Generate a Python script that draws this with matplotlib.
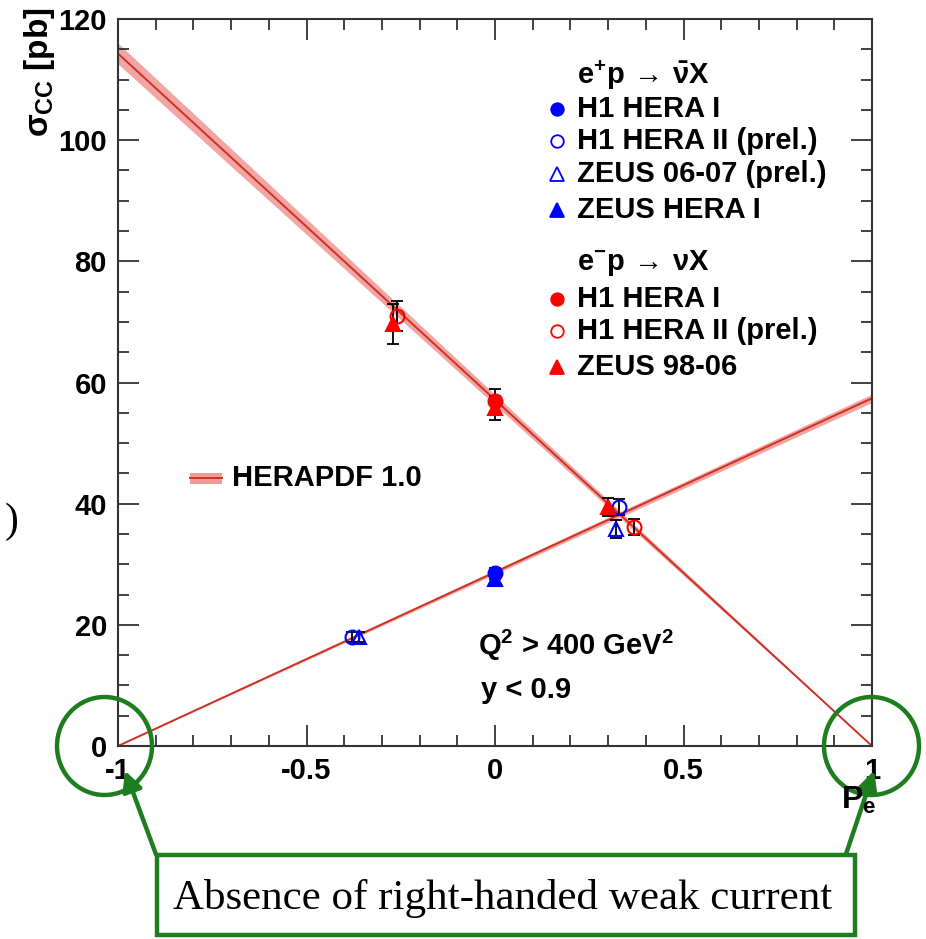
import matplotlib
matplotlib.use("Agg")
import matplotlib.pyplot as plt
import numpy as np
from matplotlib.patches import Ellipse, Rectangle
from matplotlib.ticker import MultipleLocator

# ---------------- data ----------------
# HERAPDF 1.0 predictions (linear in Pe)
pdf_pe = [-1.0, 1.0]
pdf_em = [114.3, 0.0]      # e-p -> nu X
pdf_ep = [0.0, 57.4]       # e+p -> nubar X
pdf_rel_unc_em = 0.015
pdf_rel_unc_ep = 0.012

# e+p (blue)
h1_I_ep_pe, h1_I_ep_sig, h1_I_ep_err = [0.0], [28.5], [0.9]
h1_II_ep_pe, h1_II_ep_sig, h1_II_ep_err = [-0.38, 0.33], [18.0, 39.4], [0.8, 1.3]
zeus0607_ep_pe, zeus0607_ep_sig, zeus0607_ep_err = [-0.36, 0.32], [18.0, 35.8], [0.8, 1.5]
zeusI_ep_pe, zeusI_ep_sig, zeusI_ep_err = [0.0], [27.5], [0.9]

# e-p (red)
h1_I_em_pe, h1_I_em_sig, h1_I_em_err = [0.0], [57.0], [2.0]
h1_II_em_pe, h1_II_em_sig, h1_II_em_err = [-0.26, 0.37], [71.0, 36.1], [2.5, 1.3]
zeus9806_em_pe, zeus9806_em_sig, zeus9806_em_err = [-0.27, 0.0, 0.30], [69.7, 55.8, 39.4], [3.3, 2.0, 1.5]

xticks = [-1, -0.5, 0, 0.5, 1]
xticklabels = ["-1", "-0.5", "0", "0.5", "1"]
yticks = [0, 20, 40, 60, 80, 100, 120]

# ---------------- style ----------------
plt.rcParams['font.family'] = ['Liberation Sans', 'DejaVu Sans']
plt.rcParams['font.weight'] = 'bold'
plt.rcParams['mathtext.fontset'] = 'custom'
plt.rcParams['mathtext.rm'] = 'Liberation Sans:bold'
plt.rcParams['mathtext.it'] = 'Liberation Sans:bold'
plt.rcParams['mathtext.bf'] = 'Liberation Sans:bold'

BLUE = '#0000ff'
RED = '#ff0000'
LINE = '#cc3322'
BAND = '#f29a9a'
GREEN = '#1e7d1e'

fig = plt.figure(figsize=(9.26, 9.39), dpi=100)
ax = fig.add_axes([118/926, 1-746/939, 754/926, 727/939])

# bands + lines
pe = np.array(pdf_pe)
em = np.array(pdf_em)
ep = np.array(pdf_ep)
ax.fill_between(pe, em*(1-pdf_rel_unc_em), em*(1+pdf_rel_unc_em), color=BAND, lw=0, alpha=0.9, zorder=1)
ax.fill_between(pe, ep*(1-pdf_rel_unc_ep), ep*(1+pdf_rel_unc_ep), color=BAND, lw=0, alpha=0.9, zorder=1)
ax.plot(pe, em, color=LINE, lw=1.4, zorder=2)
ax.plot(pe, ep, color=LINE, lw=1.4, zorder=2)

def pts(x, y, e, marker, color, filled):
    ax.errorbar(x, y, yerr=e, fmt='none', ecolor='black', elinewidth=1.3,
                capsize=4, capthick=1.3, zorder=3)
    ax.plot(x, y, linestyle='none', marker=marker, markersize=10,
            markerfacecolor=color if filled else 'none', markeredgecolor=color,
            markeredgewidth=1.5, zorder=4)

pts(h1_I_ep_pe, h1_I_ep_sig, h1_I_ep_err, 'o', BLUE, True)
pts(zeusI_ep_pe, zeusI_ep_sig, zeusI_ep_err, '^', BLUE, True)
pts(h1_II_ep_pe, h1_II_ep_sig, h1_II_ep_err, 'o', BLUE, False)
pts(zeus0607_ep_pe, zeus0607_ep_sig, zeus0607_ep_err, '^', BLUE, False)
pts(h1_I_em_pe, h1_I_em_sig, h1_I_em_err, 'o', RED, True)
pts(zeus9806_em_pe, zeus9806_em_sig, zeus9806_em_err, '^', RED, True)
pts(h1_II_em_pe, h1_II_em_sig, h1_II_em_err, 'o', RED, False)

ax.set_xlim(-1, 1)
ax.set_ylim(0, 120)
ax.set_xticks(xticks)
ax.set_xticklabels(xticklabels)
ax.set_yticks(yticks)
ax.xaxis.set_minor_locator(MultipleLocator(0.1))
ax.yaxis.set_minor_locator(MultipleLocator(5))
ax.tick_params(which='both', direction='in', top=True, right=True, width=1.3, color='#333333')
ax.tick_params(which='major', length=15, labelsize=21, pad=8)
ax.tick_params(which='minor', length=8)
for lab in ax.get_xticklabels() + ax.get_yticklabels():
    lab.set_fontweight('bold')
for s in ax.spines.values():
    s.set_linewidth(1.5)
    s.set_color('#333333')

# legend (manual)
fs = 21
tx = 0.609
mx = 0.582
entries = [
    (0.922, None, None, None, r'$\mathrm{e^{+}p}\,\rightarrow\,\bar{\nu}\mathrm{X}$'),
    (0.876, 'o', BLUE, True, 'H1 HERA I'),
    (0.832, 'o', BLUE, False, 'H1 HERA II (prel.)'),
    (0.787, '^', BLUE, False, 'ZEUS 06-07 (prel.)'),
    (0.737, '^', BLUE, True, 'ZEUS HERA I'),
    (0.665, None, None, None, r'$\mathrm{e^{-}p}\,\rightarrow\,\nu\mathrm{X}$'),
    (0.615, 'o', RED, True, 'H1 HERA I'),
    (0.571, 'o', RED, False, 'H1 HERA II (prel.)'),
    (0.521, '^', RED, True, 'ZEUS 98-06'),
]
for y, m, c, f, t in entries:
    ax.text(tx, y, t, transform=ax.transAxes, fontsize=fs, fontweight='bold',
            ha='left', va='center')
    if m is not None:
        ax.plot([mx], [y], transform=ax.transAxes, marker=m, markersize=9 if m == 'o' else 10,
                markerfacecolor=c if f else 'none', markeredgecolor=c, markeredgewidth=1.3,
                linestyle='none', clip_on=False)

# HERAPDF legend
ax.add_patch(Rectangle((0.095, 0.360), 0.043, 0.016, transform=ax.transAxes,
                       facecolor=BAND, edgecolor='none'))
ax.plot([0.095, 0.138], [0.368, 0.368], transform=ax.transAxes, color=LINE, lw=1.4)
ax.text(0.151, 0.368, 'HERAPDF 1.0', transform=ax.transAxes, fontsize=fs,
        fontweight='bold', ha='left', va='center')

ax.text(0.477, 0.139, r'$\mathrm{Q^{2}}$ > 400 GeV$^{2}$', transform=ax.transAxes,
        fontsize=fs, fontweight='bold', ha='left', va='center')
ax.text(0.481, 0.077, 'y < 0.9', transform=ax.transAxes, fontsize=fs,
        fontweight='bold', ha='left', va='center')

# axis labels
fig.text(0.043, 0.992, r'$\sigma_{\mathrm{CC}}$ [pb]', rotation=90, fontsize=24,
         fontweight='bold', ha='center', va='top')
fig.text(0.927, 0.148, r'$\mathrm{P_{e}}$', fontsize=23, ha='center', va='center')

# annotations (outside)
fig.text(0.013, 1-522/939, ')', fontsize=30, family='Liberation Serif',
         fontweight='normal', ha='center', va='center')
for cx in (104.5, 871.5):
    fig.patches.append(Ellipse((cx/926, 1-746/939), 95/926, 98/939,
                               transform=fig.transFigure, fill=False,
                               edgecolor=GREEN, lw=3.2))
fig.patches.append(Rectangle((157/926, 1-935/939), 698/926, 80/939,
                             transform=fig.transFigure, fill=False,
                             edgecolor=GREEN, lw=3.2))
fig.text(503/926, 1-898/939, 'Absence of right-handed weak current',
         family='Liberation Serif', fontweight='normal', fontsize=31,
         ha='center', va='center')
for (x0, y0, x1, y1) in [(157, 857, 124, 768), (845, 857, 875, 768)]:
    fig.add_artist(matplotlib.patches.FancyArrowPatch(
        (x0/926, 1-y0/939), (x1/926, 1-y1/939), transform=fig.transFigure,
        arrowstyle='-|>,head_length=12,head_width=6', color=GREEN, lw=3.2,
        mutation_scale=1))

fig.savefig('out.png', dpi=100)
